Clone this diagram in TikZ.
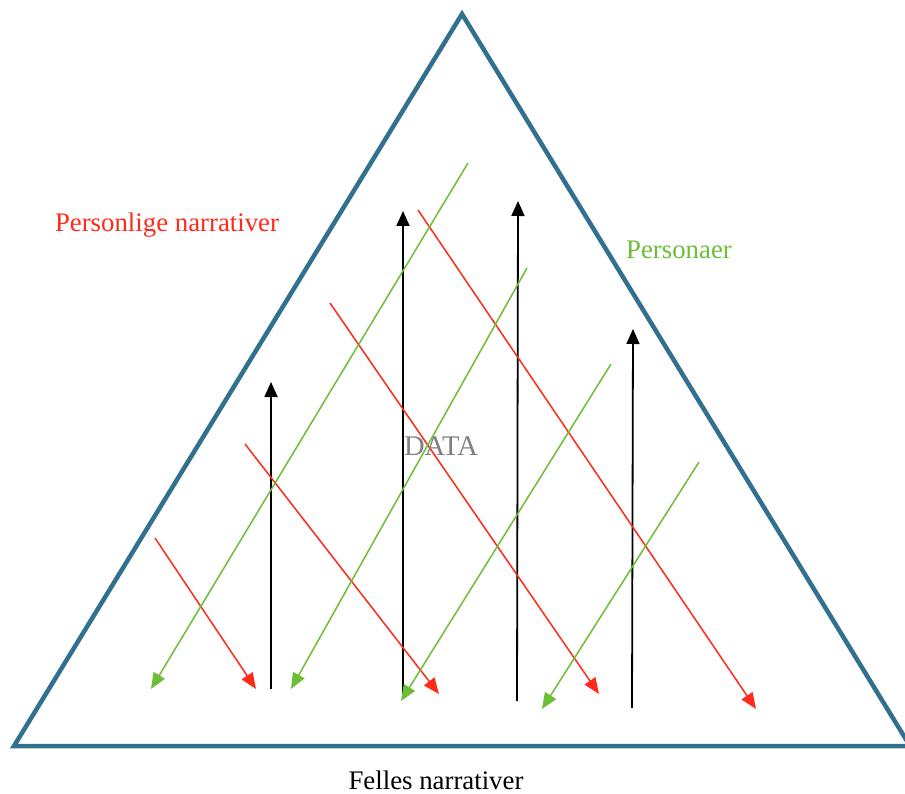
\documentclass[tikz,border=0pt]{standalone}
\usepackage{fontspec}
\setmainfont{Liberation Serif}
\usetikzlibrary{arrows.meta, positioning}
\definecolor{pyramidblue}{HTML}{31708F}
\definecolor{narrred}{HTML}{FF2A1A}
\definecolor{persgreen}{HTML}{6CBE34}
\definecolor{datagray}{HTML}{7F7F7F}
\tikzset{
  every node/.style={font=\fontsize{26.8}{30}\selectfont},
  uparrow/.style={line width=1.8pt, black, -{Triangle[length=15pt, width=13pt]}},
  redarrow/.style={line width=1.5pt, narrred, -{Triangle[length=16pt, width=13pt]}},
  greenarrow/.style={line width=1.5pt, persgreen, -{Triangle[length=16pt, width=13pt]}},
}

\begin{document}
\begin{tikzpicture}[x=1pt, y=-1pt]
    \useasboundingbox (0, 0) rectangle (905, 794);
    % pyramid
    \draw[pyramidblue, line width=4.5pt, line join=miter]
      (462, 14) coordinate (apex) -- (910, 746) coordinate (right) -- (14, 746) coordinate (left) -- cycle;
    % black arrows
    \coordinate (b1s) at (271, 689);  \coordinate (b1e) at (271, 382);
    \coordinate (b2s) at (403, 696);  \coordinate (b2e) at (403, 211);
    \coordinate (b3s) at (517, 701);  \coordinate (b3e) at (518, 201);
    \coordinate (b4s) at (632, 708);  \coordinate (b4e) at (633, 329);
    \draw[uparrow] (b1s) -- (b1e);
    \draw[uparrow] (b2s) -- (b2e);
    \draw[uparrow] (b3s) -- (b3e);
    \draw[uparrow] (b4s) -- (b4e);
    % red arrows
    \coordinate (r1s) at (155, 538);  \coordinate (r1e) at (256, 689);
    \coordinate (r2s) at (245, 444);  \coordinate (r2e) at (439, 694);
    \coordinate (r3s) at (330, 303);  \coordinate (r3e) at (599, 694);
    \coordinate (r4s) at (418, 210);  \coordinate (r4e) at (756, 709);
    \draw[redarrow] (r1s) -- (r1e);
    \draw[redarrow] (r2s) -- (r2e);
    \draw[redarrow] (r3s) -- (r3e);
    \draw[redarrow] (r4s) -- (r4e);
    % green arrows
    \coordinate (g1s) at (468, 163);  \coordinate (g1e) at (151, 689);
    \coordinate (g2s) at (527, 268);  \coordinate (g2e) at (291, 689);
    \coordinate (g3s) at (611, 364);  \coordinate (g3e) at (401, 701);
    \coordinate (g4s) at (699, 462);  \coordinate (g4e) at (542, 709);
    \draw[greenarrow] (g1s) -- (g1e);
    \draw[greenarrow] (g2s) -- (g2e);
    \draw[greenarrow] (g3s) -- (g3e);
    \draw[greenarrow] (g4s) -- (g4e);
    % labels
    \node[narrred] (personlige) at (167, 225) {Personlige narrativer};
    \node[persgreen] (personaer) at (679, 250) {Personaer};
    \node[datagray, font=\fontsize{28.5}{32}\selectfont] (data) at (441, 446) {DATA};
    \node (felles) at (436, 780) {Felles narrativer};
\end{tikzpicture}
\end{document}
